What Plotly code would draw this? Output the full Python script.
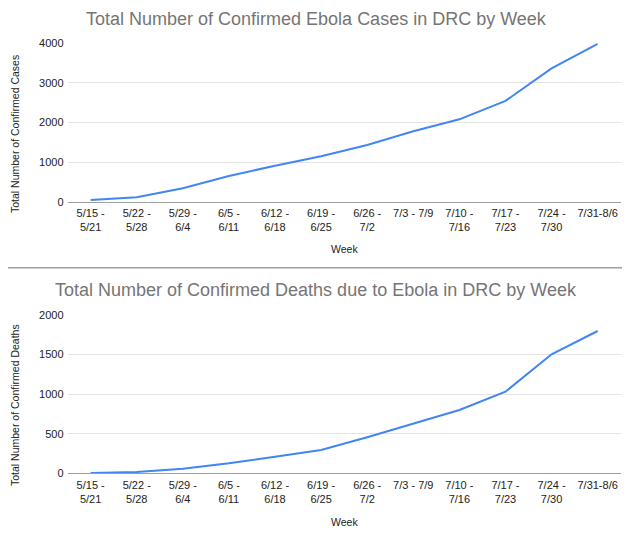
import plotly.graph_objects as go

weeks = ["5/15 - 5/21", "5/22 - 5/28", "5/29 - 6/4", "6/5 - 6/11", "6/12 - 6/18",
         "6/19 - 6/25", "6/26 - 7/2", "7/3 - 7/9", "7/10 - 7/16", "7/17 - 7/23",
         "7/24 - 7/30", "7/31-8/6"]
week_labels = ["5/15 -<br>5/21", "5/22 -<br>5/28", "5/29 -<br>6/4", "6/5 -<br>6/11",
               "6/12 -<br>6/18", "6/19 -<br>6/25", "6/26 -<br>7/2", "7/3 - 7/9",
               "7/10 -<br>7/16", "7/17 -<br>7/23", "7/24 -<br>7/30", "7/31-8/6"]
cases = [40, 115, 340, 650, 910, 1150, 1430, 1780, 2080, 2545, 3365, 3985]
deaths = [5, 18, 58, 126, 210, 295, 455, 625, 800, 1031, 1503, 1798]

# page body has an 8px margin, so the figure is shrunk and shifted by it
OFF = 8
W, H = 630 - OFF, 540 - OFF
FONT = "Arial, Liberation Sans, sans-serif"
BLUE = "#4285f4"


def px_y(y):
    # screen pixel from top -> paper coords
    return 1 - (y - OFF) / H


def px_x(x):
    return (x - OFF) / W


fig = go.Figure()
fig.add_trace(go.Scatter(x=weeks, y=cases, mode="lines", line=dict(color=BLUE, width=2),
                         xaxis="x", yaxis="y", showlegend=False))
fig.add_trace(go.Scatter(x=weeks, y=deaths, mode="lines", line=dict(color=BLUE, width=2),
                         xaxis="x2", yaxis="y2", showlegend=False))

xdom = [px_x(67.6), px_x(620.7)]
xax = dict(type="category", tickmode="array", tickvals=weeks, ticktext=week_labels,
           range=[-0.5, len(weeks) - 0.5], automargin=False,
           showgrid=False, showline=True, linecolor="#9e9e9e", linewidth=1.2,
           ticks="", tickfont=dict(family=FONT, size=11, color="#222"),
           ticklabelstandoff=1, domain=xdom, fixedrange=True)
yax = dict(showgrid=True, gridcolor="#e3e3e3", gridwidth=1, zeroline=False,
           automargin=False, ticks="", tickfont=dict(family=FONT, size=11, color="#222"),
           ticklabelstandoff=3, fixedrange=True)

fig.update_layout(
    width=W, height=H,
    margin=dict(l=0, r=0, t=0, b=0, autoexpand=False),
    paper_bgcolor="white", plot_bgcolor="white",
    xaxis=dict(xax, anchor="y"),
    yaxis=dict(yax, range=[0, 4000], tickvals=[0, 1000, 2000, 3000, 4000],
               domain=[px_y(201.7), px_y(43.3)], anchor="x"),
    xaxis2=dict(xax, anchor="y2"),
    yaxis2=dict(yax, range=[0, 2000], tickvals=[0, 500, 1000, 1500, 2000],
                domain=[px_y(473.3), px_y(315)], anchor="x2"),
)

titles = [
    ("Total Number of Confirmed Ebola Cases in DRC by Week", 19),
    ("Total Number of Confirmed Deaths due to Ebola in DRC by Week", 290),
]
for text, y in titles:
    fig.add_annotation(text=text, xref="paper", yref="paper", x=px_x(316), y=px_y(y),
                       showarrow=False, xanchor="center", yanchor="middle",
                       font=dict(family=FONT, size=18, color="#757575"))

ytitles = [("Total Number of Confirmed Cases", 134), ("Total Number of Confirmed Deaths", 405)]
for text, y in ytitles:
    fig.add_annotation(text=text, xref="paper", yref="paper", x=px_x(15), y=px_y(y),
                       showarrow=False, textangle=-90, xanchor="center", yanchor="middle",
                       font=dict(family=FONT, size=10.5, color="#222"))

for y in (249, 522):
    fig.add_annotation(text="Week", xref="paper", yref="paper", x=px_x(344), y=px_y(y),
                       showarrow=False, xanchor="center", yanchor="middle",
                       font=dict(family=FONT, size=10.5, color="#222"))

fig.add_shape(type="line", xref="paper", yref="paper", x0=0, x1=1,
              y0=px_y(267.7), y1=px_y(267.7), line=dict(color="#9e9e9e", width=1.5))

fig.write_html("out.html")
